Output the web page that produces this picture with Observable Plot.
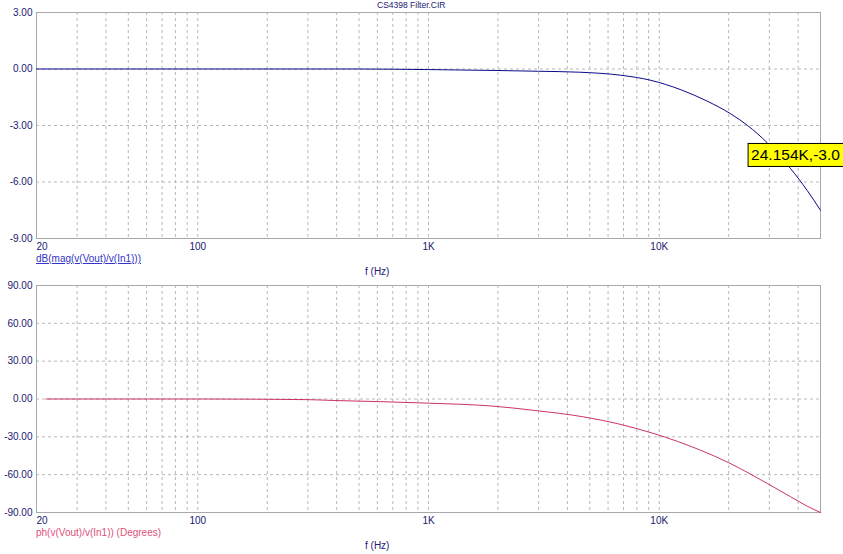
<!DOCTYPE html>
<html><head><meta charset="utf-8">
<script src="https://cdn.jsdelivr.net/npm/d3@7"></script>
<script src="https://cdn.jsdelivr.net/npm/@observablehq/plot@0.6"></script>
<style>
html,body{margin:0;padding:0;background:#fff;}
body{width:843px;height:554px;position:relative;overflow:hidden;font-family:"Liberation Sans",Arial,sans-serif;}
.abs{position:absolute;white-space:nowrap;font-size:10px;line-height:1;}
.panel{width:843px;}
</style></head>
<body>
<div class="abs" style="left:377px;top:1px;font-size:8.5px;color:#202070">CS4398 Filter.CIR</div>
<div id="topPanel" class="abs panel" style="left:0;top:0"></div>
<div class="abs" style="left:36px;top:254px;color:#3434c8;text-decoration:underline">dB(mag(v(Vout)/v(In1)))</div>
<div class="abs" style="left:365px;top:267px;color:#202070">f (Hz)</div>
<div id="botPanel" class="abs panel" style="left:0;top:266px"></div>
<div class="abs" style="left:36px;top:528px;color:#e0507a">ph(v(Vout)/v(In1)) (Degrees)</div>
<div class="abs" style="left:365px;top:541px;color:#202070">f (Hz)</div>
<script>
// ---- data ----
const magFreq = [20, 100, 500, 700, 1000, 2000, 3000, 4500, 6800, 9200, 12400, 16100, 20400, 24154, 29400, 37100, 43800, 50000];
const magDb   = [0, 0, 0, -0.01, -0.03, -0.08, -0.12, -0.17, -0.33, -0.6, -1.1, -1.7, -2.38, -3.0, -3.92, -5.29, -6.45, -7.5];
const phFreq  = [22, 100, 300, 390, 620, 1000, 1920, 2860, 4710, 6580, 9480, 15100, 20000, 29400, 37100, 43800, 50000];
const phDeg   = [0, 0, -0.5, -1.2, -2.1, -3.3, -5.7, -9, -14.2, -19.5, -27.4, -40.6, -50.5, -67, -77.5, -85, -90];
const xTickMain = [100, 1000, 10000, 50000];
const xTickFirst = [20];
const xGrid = [30,40,50,60,70,80,90,100,200,300,400,500,600,700,800,900,1000,2000,3000,4000,5000,6000,7000,8000,9000,10000,20000,30000,40000];
const magTicks = [3, 0, -3, -6, -9];
const magGrid = [0, -3, -6];
const phTicks = [90, 60, 30, 0, -30, -60, -90];
const phGrid = [60, 30, 0, -30, -60];
const annot = [{f: 24154, v: -3.0, label: "24.154K,-3.0"}];

const magData = magFreq.map((f, i) => ({f, v: magDb[i]}));
const phData = phFreq.map((f, i) => ({f, v: phDeg[i]}));

const fmtF = d => d >= 1000 ? (d / 1000) + "K" : String(d);
const fmtY = d => d.toFixed(2);
const gridStroke = "#b8b8b8";
const frameStroke = "#a8a8a8";
const ink = "#202070";

function panel({height, marginTop, marginBottom, yDomain, yTicks, yGrid, data, color, extra = []}) {
  return Plot.plot({
    width: 843, height, marginTop, marginBottom, marginLeft: 36, marginRight: 23,
    x: {type: "log", domain: [20, 50000]},
    y: {domain: yDomain},
    style: {fontFamily: '"Liberation Sans", Arial, sans-serif', fontSize: "10px", color: ink, background: "transparent", overflow: "visible"},
    marks: [
      Plot.ruleX(xGrid, {stroke: gridStroke, strokeDasharray: "3,3"}),
      Plot.ruleY(yGrid, {stroke: gridStroke, strokeDasharray: "3,3"}),
      Plot.frame({stroke: frameStroke}),
      Plot.line(data, {x: "f", y: "v", stroke: color, strokeWidth: 1, curve: "monotone-x"}),
      Plot.axisY({ticks: yTicks, tickFormat: fmtY, tickSize: 0, tickPadding: 4, label: null, fill: ink}),
      Plot.axisX({ticks: xTickMain, tickFormat: fmtF, tickSize: 0, tickPadding: 4, label: null, fill: ink}),
      Plot.axisX({ticks: xTickFirst, tickFormat: fmtF, tickSize: 0, tickPadding: 4, label: null, fill: ink, textAnchor: "start"}),
      ...extra
    ]
  });
}

const topSvg = panel({
  height: 266, marginTop: 12, marginBottom: 28, yDomain: [-9, 3], yTicks: magTicks, yGrid: magGrid,
  data: magData, color: "#0a0a8c",
  extra: [Plot.text(annot, {x: "f", y: "v", text: "label", textAnchor: "start", lineAnchor: "middle", dx: 3.5, dy: 30, fontSize: 15.5, fill: "black"})]
});
document.getElementById("topPanel").append(topSvg);

const botSvg = panel({
  height: 288, marginTop: 19, marginBottom: 42, yDomain: [-90, 90], yTicks: phTicks, yGrid: phGrid,
  data: phData, color: "#cc3366"
});
document.getElementById("botPanel").append(botSvg);

// yellow box behind the annotation text
for (const t of topSvg.querySelectorAll("text")) {
  if (t.textContent === annot[0].label) {
    const b = t.getBBox();
    const r = document.createElementNS("http://www.w3.org/2000/svg", "rect");
    r.setAttribute("x", b.x - 3);
    r.setAttribute("y", b.y + b.height / 2 - 11.5);
    r.setAttribute("width", b.width + 20);
    r.setAttribute("height", 23);
    r.setAttribute("fill", "#ffff00");
    r.setAttribute("stroke", "black");
    r.setAttribute("stroke-width", 1);
    if (t.getAttribute("transform")) r.setAttribute("transform", t.getAttribute("transform"));
    t.parentNode.insertBefore(r, t);
  }
}
</script>
</body></html>
